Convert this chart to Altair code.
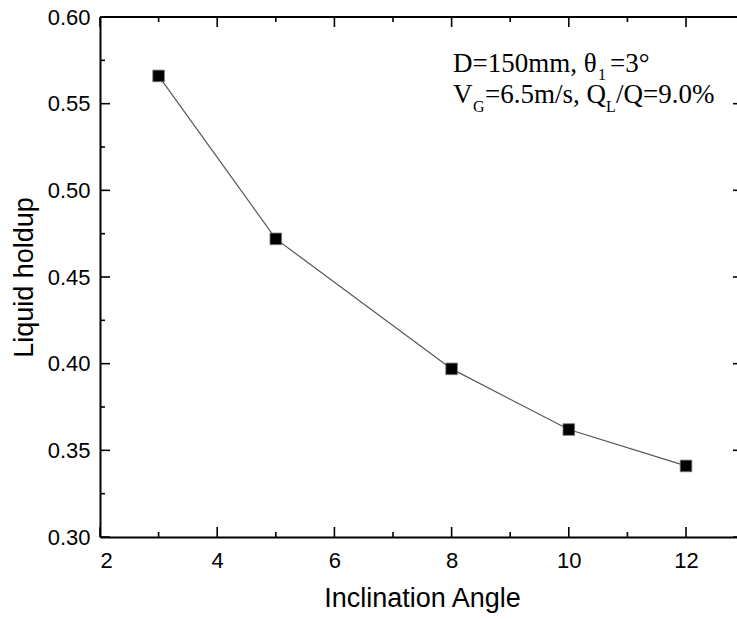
import altair as alt
import pandas as pd

# ---- data ----
angles = [3, 5, 8, 10, 12]
holdup = [0.566, 0.472, 0.397, 0.362, 0.341]

x_major = [2, 4, 6, 8, 10, 12]
x_minor = [3, 5, 7, 9, 11]
y_major = [0.30, 0.35, 0.40, 0.45, 0.50, 0.55, 0.60]
y_minor = [0.325, 0.375, 0.425, 0.475, 0.525, 0.575]

x_title = "Inclination Angle"
y_title = "Liquid holdup"

W, H = 637, 520
SANS = "Liberation Sans"
SERIF = "Liberation Serif"

df = pd.DataFrame({"angle": angles, "holdup": holdup})
xscale = alt.Scale(domain=[2, 12.87], nice=False, zero=False)
yscale = alt.Scale(domain=[0.30, 0.60], nice=False, zero=False)

xaxis = alt.Axis(values=x_major, format="d", ticks=False, grid=False,
                 domainColor="black", domainWidth=2, labelFont=SANS, labelFontSize=22,
                 labelColor="black", labelPadding=13, title=x_title, titleFont=SANS,
                 titleFontSize=27, titleFontWeight="normal", titleColor="black",
                 titlePadding=14, titleX=322)
yaxis = alt.Axis(values=y_major, format=".2f", ticks=False, grid=False,
                 domainColor="black", domainWidth=2, labelFont=SANS, labelFontSize=22,
                 labelColor="black", labelPadding=10, title=y_title, titleFont=SANS,
                 titleFontSize=27, titleFontWeight="normal", titleColor="black",
                 titlePadding=9)

X = alt.X("angle:Q", scale=xscale, axis=xaxis)
Y = alt.Y("holdup:Q", scale=yscale, axis=yaxis)


def yticks(vals, length, centre):
    d = pd.DataFrame({"holdup": vals})
    return alt.Chart(d).mark_tick(color="black", orient="horizontal", size=length,
                                  thickness=1.6, opacity=1).encode(
        y=Y, x=alt.value(centre))


def xticks(vals, length, centre):
    d = pd.DataFrame({"angle": vals})
    return alt.Chart(d).mark_tick(color="black", orient="vertical", size=length,
                                  thickness=1.6, opacity=1).encode(
        x=X, y=alt.value(centre))


frame_top = alt.Chart(pd.DataFrame({"a": [0]})).mark_rect(color="black").encode(
    x=alt.value(0), x2=alt.value(W), y=alt.value(-1), y2=alt.value(1))

layers = [
    alt.Chart(df).mark_line(color="#555555", strokeWidth=1.2).encode(x=X, y=Y),
    yticks(y_major, 10, 5), yticks(y_minor, 5, 2.5), yticks(y_major, 4, W - 2),
    xticks(x_major, 10, H - 5), xticks(x_minor, 5, H - 2.5),
    xticks(x_major, 10, 5), xticks(x_minor, 5, 2.5),
    frame_top,
    alt.Chart(df).mark_square(size=135, color="black", opacity=1,
                              stroke="#777777", strokeWidth=0.8).encode(x=X, y=Y),
]

segments = [
    ("D=150mm, θ", 353, 54.5, 27), ("1", 498, 63, 16), ("=3°", 510, 54.5, 27),
    ("V", 353, 86, 27), ("G", 373, 95, 16), ("=6.5m/s, Q", 385, 86, 27),
    ("L", 506, 95, 16), ("/Q=9.0%", 516, 86, 27),
]
for s, tx, ty, fs in segments:
    layers.append(alt.Chart(pd.DataFrame({"t": [s]})).mark_text(
        font=SERIF, fontSize=fs, align="left", baseline="alphabetic", color="black"
    ).encode(text="t:N", x=alt.value(tx), y=alt.value(ty)))

chart = alt.layer(*layers).properties(
    width=W, height=H,
    background="white",
    autosize=alt.AutoSizeParams(type="none"),
    padding={"left": 100, "top": 17, "right": 0, "bottom": 82},
).configure_view(strokeWidth=0)

chart.save("out.html", embed_options={"renderer": "svg", "actions": False})
